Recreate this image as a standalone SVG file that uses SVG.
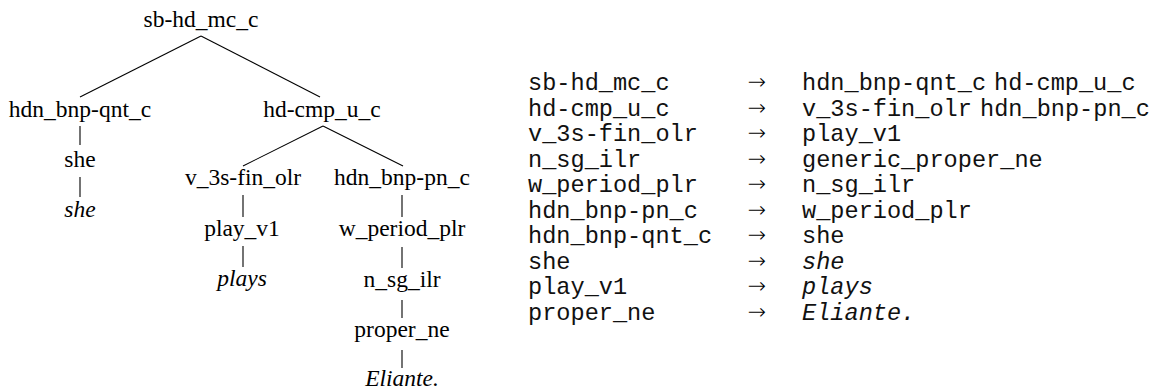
<svg xmlns="http://www.w3.org/2000/svg" width="1155" height="392" viewBox="0 0 1155 392">
<style>
.t{font-family:"Liberation Serif","Times New Roman",serif;font-size:23.5px;fill:#000;text-anchor:middle}
.i{font-style:italic}
.m{font-family:"Liberation Mono","Courier New",monospace;font-size:23.6px;fill:#111}
.a{font-family:"DejaVu Sans ExtraLight","DejaVu Sans",sans-serif;font-weight:200;font-size:22px;fill:#000;text-anchor:middle}
.e line{stroke:#000;stroke-width:1.1}
</style>
<rect width="1155" height="392" fill="#fff"/>
<g class="e" id="connectors">
<line x1="201" y1="36" x2="80" y2="97"/>
<line x1="201" y1="36" x2="320" y2="97"/>
<line x1="80" y1="126" x2="80" y2="145"/>
<line x1="80" y1="177" x2="80" y2="197"/>
<line x1="323" y1="126" x2="243" y2="166"/>
<line x1="323" y1="126" x2="403" y2="166"/>
<line x1="243" y1="195" x2="243" y2="217"/>
<line x1="243" y1="246" x2="243" y2="267"/>
<line x1="402" y1="195" x2="402" y2="217"/>
<line x1="402" y1="247" x2="402" y2="268"/>
<line x1="402" y1="300" x2="402" y2="318"/>
<line x1="402" y1="350" x2="402" y2="368"/>
</g>
<g id="n_root"><text class="t" x="201" y="27">sb-hd_mc_c</text></g>
<g id="n_qnt"><text class="t" x="80" y="117">hdn_bnp-qnt_c</text></g>
<g id="n_she"><text class="t" x="80" y="167">she</text></g>
<g id="n_she_w"><text class="t i" x="80" y="217">she</text></g>
<g id="n_hdcmp"><text class="t" x="322" y="117">hd-cmp_u_c</text></g>
<g id="n_v3s"><text class="t" x="243" y="185">v_3s-fin_olr</text></g>
<g id="n_play"><text class="t" x="242" y="236">play_v1</text></g>
<g id="n_plays"><text class="t i" x="242" y="286">plays</text></g>
<g id="n_pn"><text class="t" x="402" y="185">hdn_bnp-pn_c</text></g>
<g id="n_wper"><text class="t" x="402" y="236">w_period_plr</text></g>
<g id="n_nsg"><text class="t" x="402" y="287">n_sg_ilr</text></g>
<g id="n_proper"><text class="t" x="402" y="337">proper_ne</text></g>
<g id="n_eliante"><text class="t i" x="402" y="386">Eliante.</text></g>
<g id="rules">
<text class="m" x="528" y="90">sb-hd_mc_c</text><text class="a" x="757" y="89">→</text><text class="m" x="802" y="90">hdn_bnp-qnt_c</text><text class="m" x="994" y="90">hd-cmp_u_c</text>
<text class="m" x="528" y="115.5">hd-cmp_u_c</text><text class="a" x="757" y="114.5">→</text><text class="m" x="802" y="115.5">v_3s-fin_olr</text><text class="m" x="980" y="115.5">hdn_bnp-pn_c</text>
<text class="m" x="528" y="141">v_3s-fin_olr</text><text class="a" x="757" y="140">→</text><text class="m" x="802" y="141">play_v1</text>
<text class="m" x="528" y="166.5">n_sg_ilr</text><text class="a" x="757" y="165.5">→</text><text class="m" x="802" y="166.5">generic_proper_ne</text>
<text class="m" x="528" y="192">w_period_plr</text><text class="a" x="757" y="191">→</text><text class="m" x="802" y="192">n_sg_ilr</text>
<text class="m" x="528" y="217.5">hdn_bnp-pn_c</text><text class="a" x="757" y="216.5">→</text><text class="m" x="802" y="217.5">w_period_plr</text>
<text class="m" x="528" y="243">hdn_bnp-qnt_c</text><text class="a" x="757" y="242">→</text><text class="m" x="802" y="243">she</text>
<text class="m" x="528" y="268.5">she</text><text class="a" x="757" y="267.5">→</text><text class="m i" x="802" y="268.5">she</text>
<text class="m" x="528" y="294">play_v1</text><text class="a" x="757" y="293">→</text><text class="m i" x="802" y="294">plays</text>
<text class="m" x="528" y="319.5">proper_ne</text><text class="a" x="757" y="318.5">→</text><text class="m i" x="802" y="319.5">Eliante.</text>
</g>
</svg>
